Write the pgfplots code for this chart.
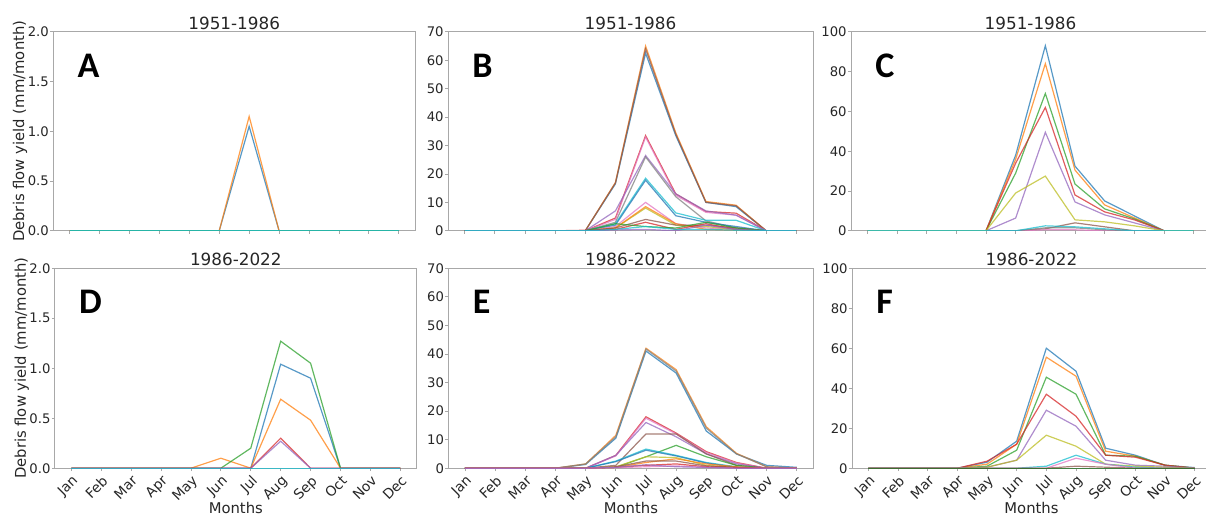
\documentclass[border=0pt]{standalone}
\usepackage{pgfplots}
\pgfplotsset{compat=1.18}
\usepackage{pgfplotstable}
\usepackage{fontspec}
\setmainfont{DejaVu Sans}
\newfontfamily\panelfont{Carlito}

\definecolor{c0}{HTML}{1F77B4}
\definecolor{c1}{HTML}{FF7F0E}
\definecolor{c2}{HTML}{2CA02C}
\definecolor{c3}{HTML}{D62728}
\definecolor{c4}{HTML}{9467BD}
\definecolor{c5}{HTML}{8C564B}
\definecolor{c6}{HTML}{E377C2}
\definecolor{c7}{HTML}{7F7F7F}
\definecolor{c8}{HTML}{BCBD22}
\definecolor{c9}{HTML}{17BECF}
\definecolor{spine}{HTML}{A8A8A8}
\definecolor{txt}{HTML}{262626}

% monthly yield per site, month index 0 = Jan
\pgfplotstableread{
m a1 a2 a3 a4
0 0 0 0 0
1 0 0 0 0
2 0 0 0 0
3 0 0 0 0
4 0 0 0 0
5 0 0 0 0
6 1.05 1.15 0 0
7 0 0 0 0
8 0 0 0 0
9 0 0 0 0
10 0 0 0 0
11 0 0 0 0
}\tabA

\pgfplotstableread{
m b1 b2 b3 b4 b5 b6 b7 b8 b9 b10 b11 b12 b13 b14 b15 b16 b17
0 0 0 0 0 0 0 0 0 0 0 0 0 0 0 0 0 0
1 0 0 0 0 0 0 0 0 0 0 0 0 0 0 0 0 0
2 0 0 0 0 0 0 0 0 0 0 0 0 0 0 0 0 0
3 0 0 0 0 0 0 0 0 0 0 0 0 0 0 0 0 0
4 0 0 0 0 0 0 0 0 0 0 0 0 0 0.2 0 0 0
5 16.5 17 16.8 4.5 4 7 3 2.5 2 1.5 1 1 1 0.5 2.5 0.3 0.5
6 62.5 65 64 33.5 33 26.5 26 18.5 17.8 10 8 8.5 4 3 1.5 0.5 1.5
7 33.5 34.5 34 13 12.5 13 12 6.3 5.3 2.5 2 2.5 2 0.5 1 0 0.5
8 10 10.3 10 6.8 6.5 7 3.5 3.7 3 1 1.5 0.5 2 2.5 3 2 0.5
9 8.5 9 8.8 6.2 5.5 5.5 1 3.7 1.5 0.5 0.5 0.2 1 0.5 1 0.5 0.2
10 0 0 0 0 0 0 0 0 0 0 0 0 0 0 0 0 0
11 0 0 0 0 0 0 0 0 0 0 0 0 0 0 0 0 0
}\tabB

\pgfplotstableread{
m c1 c2 c3 c4 c5 c6 c7 c8 c9 c10
0 0 0 0 0 0 0 0 0 0 0
1 0 0 0 0 0 0 0 0 0 0
2 0 0 0 0 0 0 0 0 0 0
3 0 0 0 0 0 0 0 0 0 0
4 0 0 0 0 0 0 0 0 0 0
5 38 36 29 34 6.4 0 0 0 19 0
6 93 84 69 62 49.5 1 0.5 1.5 27.5 2.5
7 32.5 30.5 23.5 18 14.5 4 0.5 1.5 5.5 2
8 15 13 11 9.5 8 2 0 0.5 4.5 1
9 7.5 6.5 6 5.5 4 0 0 0 2.5 0
10 0 0 0 0 0 0 0 0 0 0
11 0 0 0 0 0 0 0 0 0 0
}\tabC

\pgfplotstableread{
m d1 d2 d3 d4 d5 d6
0 0 0 0 0 0 0
1 0 0 0 0 0 0
2 0 0 0 0 0 0
3 0 0 0 0 0 0
4 0 0 0 0 0 0
5 0 0.1 0 0 0 0
6 0 0 0.2 0 0 0
7 1.04 0.69 1.27 0.3 0.27 0
8 0.9 0.48 1.05 0 0 0
9 0 0 0 0 0 0
10 0 0 0 0 0 0
11 0 0 0 0 0 0
}\tabD

\pgfplotstableread{
m e1 e2 e3 e4 e5 e6 e7 e8 e9 e10 e11 e12 e13 e14 e15 e16
0 0 0 0 0 0 0 0 0 0 0 0 0 0 0 0 0
1 0 0 0 0 0 0 0 0 0 0 0 0 0 0 0 0
2 0 0 0 0 0 0 0 0 0 0 0 0 0 0 0 0
3 0 0 0 0 0 0 0 0 0 0 0 0 0 0 0 0
4 1.3 1.5 1.5 0 0 0 0 0 0 0 0 0 0 0 0 0
5 10.5 11.5 11 4.5 4.3 4.5 1 0.3 2.5 2.3 0.5 0.3 0.5 0.3 0.2 0.3
6 41 42 41.7 18 17.5 16 12 4 6.7 6.3 4 2 2.5 1 0.5 1.2
7 33.3 34.5 34 12.3 12 11 12 8 4.5 4.3 3.7 3.3 2.5 1.5 0.8 0.5
8 13 14.5 14 5.8 5.5 5 5 4 2 1.8 1 1.5 0.8 0.5 0.3 0.3
9 5 5.2 5 2 1.8 1.5 1 1 0.5 0.3 0.3 0.5 0.3 0.2 0 0
10 1 0.5 0.5 0 0 0 0 0 0 0 0 0 0 0 0 0
11 0.3 0 0 0 0 0 0 0 0 0 0 0 0 0 0 0
}\tabE

\pgfplotstableread{
m f1 f2 f3 f4 f5 f6 f7 f8 f9 f10
0 0 0 0 0 0 0 0 0 0 0
1 0 0 0 0 0 0 0 0 0 0
2 0 0 0 0 0 0 0 0 0 0
3 0 0 0 0 0 0 0 0 0 0
4 3 2 1 3.5 0.5 0.5 0 0 0 0
5 13.5 12 9 12 4 4 0 0 0 0
6 60 55.5 45.5 37 29 16.5 1 0 0 0
7 48.5 46 37 26 21 11 6.5 5 1 0
8 10 8.5 6.5 6.5 4 2 2 2 0.5 0
9 6.5 6 6 5.5 1.5 1 0.5 0 0 0
10 1.5 1.5 1.5 1.5 1 0.5 0 0 0 0
11 0.3 0 0 0 0 0 0 0 0 0
}\tabF

\tikzset{
  letter/.style={anchor=north west, inner sep=0pt, xshift=12pt, yshift=-11pt,
    font=\panelfont\bfseries\fontsize{18}{18}\selectfont},
}
\pgfplotsset{
  panel/.style={
    scale only axis, xmin=-0.55, xmax=11.55, ymin=0,
    xtick={0,...,11}, xtick pos=bottom, ytick pos=left,
    tick align=outside, major tick length=1.5pt,
    axis line style={spine, line width=0.5pt},
    every tick/.style={spine, line width=0.4pt},
    tick label style={font=\fontsize{6.6}{7}\selectfont, text=txt},
    yticklabel style={inner sep=0.5pt},
    /pgf/number format/assume math mode=true,
    every axis title/.style={at={(0.5,1)}, anchor=base, yshift=1.3pt,
      font=\fontsize{8.4}{9}\selectfont, text=txt},
    every axis y label/.style={at={([xshift=-14.5pt]axis description cs:0,0.5)},
      rotate=90, anchor=base, inner sep=0pt, font=\fontsize{7.4}{8}\selectfont, text=txt},
    every axis x label/.style={at={([yshift=-22.6pt]axis description cs:0.5,0)},
      anchor=base, inner sep=0pt, font=\fontsize{7.4}{8}\selectfont, text=txt},
    every axis plot/.append style={line width=0.6pt, opacity=0.75, mark=none},
  },
  toprow/.style={panel, height=99.5pt, xticklabels={}, title={1951-1986}},
  botrow/.style={panel, height=100pt, title={1986-2022},
    xticklabels={Jan,Feb,Mar,Apr,May,Jun,Jul,Aug,Sep,Oct,Nov,Dec},
    xticklabel style={rotate=45, anchor=north east, inner sep=1pt,
      font=\fontsize{6.9}{7}\selectfont},
    xlabel={Months}},
  yrangeS/.style={ymax=2, ytick={0,0.5,1,1.5,2},
    yticklabel style={/pgf/number format/.cd, fixed, fixed zerofill, precision=1},
    ylabel={Debris flow yield (mm/month)}},
  yrangeM/.style={ymax=70, ytick={0,10,...,70}},
  yrangeL/.style={ymax=100, ytick={0,20,...,100}},
}

\begin{document}
\begin{tikzpicture}
\useasboundingbox (0,0) rectangle (603pt,258pt);

% A
\begin{axis}[toprow, yrangeS, at={(26.6pt,142.6pt)}, anchor=south west, width=181pt]
\addplot[c0] table[x=m,y=a1] {\tabA};
\addplot[c1] table[x=m,y=a2] {\tabA};
\addplot[c2] table[x=m,y=a3] {\tabA};
\addplot[c9] table[x=m,y=a4] {\tabA};
\node[letter] at (rel axis cs:0,1) {A};
\end{axis}

% B
\begin{axis}[toprow, yrangeM, at={(224pt,142.6pt)}, anchor=south west, width=182.5pt]
\addplot[c0] table[x=m,y=b1] {\tabB};
\addplot[c1] table[x=m,y=b2] {\tabB};
\addplot[c5] table[x=m,y=b3] {\tabB};
\addplot[c3] table[x=m,y=b4] {\tabB};
\addplot[c6] table[x=m,y=b5] {\tabB};
\addplot[c4] table[x=m,y=b6] {\tabB};
\addplot[c7] table[x=m,y=b7] {\tabB};
\addplot[c9] table[x=m,y=b8] {\tabB};
\addplot[c0] table[x=m,y=b9] {\tabB};
\addplot[c6] table[x=m,y=b10] {\tabB};
\addplot[c8] table[x=m,y=b11] {\tabB};
\addplot[c1] table[x=m,y=b12] {\tabB};
\addplot[c5] table[x=m,y=b13] {\tabB};
\addplot[c3] table[x=m,y=b14] {\tabB};
\addplot[c2] table[x=m,y=b15] {\tabB};
\addplot[c4] table[x=m,y=b16] {\tabB};
\addplot[c9] table[x=m,y=b17] {\tabB};
\node[letter] at (rel axis cs:0,1) {B};
\end{axis}

% C
\begin{axis}[toprow, yrangeL, at={(425.5pt,142.6pt)}, anchor=south west, width=179.5pt]
\addplot[c0] table[x=m,y=c1] {\tabC};
\addplot[c1] table[x=m,y=c2] {\tabC};
\addplot[c2] table[x=m,y=c3] {\tabC};
\addplot[c3] table[x=m,y=c4] {\tabC};
\addplot[c4] table[x=m,y=c5] {\tabC};
\addplot[c5] table[x=m,y=c6] {\tabC};
\addplot[c6] table[x=m,y=c7] {\tabC};
\addplot[c7] table[x=m,y=c8] {\tabC};
\addplot[c8] table[x=m,y=c9] {\tabC};
\addplot[c9] table[x=m,y=c10] {\tabC};
\node[letter] at (rel axis cs:0,1) {C};
\end{axis}

% D
\begin{axis}[botrow, yrangeS, at={(27.4pt,23.9pt)}, anchor=south west, width=181pt]
\addplot[c0] table[x=m,y=d1] {\tabD};
\addplot[c1] table[x=m,y=d2] {\tabD};
\addplot[c2] table[x=m,y=d3] {\tabD};
\addplot[c3] table[x=m,y=d4] {\tabD};
\addplot[c4] table[x=m,y=d5] {\tabD};
\addplot[c9] table[x=m,y=d6] {\tabD};
\node[letter] at (rel axis cs:0,1) {D};
\end{axis}

% E
\begin{axis}[botrow, yrangeM, at={(224.2pt,23.9pt)}, anchor=south west, width=182.5pt]
\addplot[c0] table[x=m,y=e1] {\tabE};
\addplot[c1] table[x=m,y=e2] {\tabE};
\addplot[c7] table[x=m,y=e3] {\tabE};
\addplot[c3] table[x=m,y=e4] {\tabE};
\addplot[c6] table[x=m,y=e5] {\tabE};
\addplot[c4] table[x=m,y=e6] {\tabE};
\addplot[c5] table[x=m,y=e7] {\tabE};
\addplot[c2] table[x=m,y=e8] {\tabE};
\addplot[c9] table[x=m,y=e9] {\tabE};
\addplot[c0] table[x=m,y=e10] {\tabE};
\addplot[c8] table[x=m,y=e11] {\tabE};
\addplot[c1] table[x=m,y=e12] {\tabE};
\addplot[c5] table[x=m,y=e13] {\tabE};
\addplot[c3] table[x=m,y=e14] {\tabE};
\addplot[c6] table[x=m,y=e15] {\tabE};
\addplot[c4] table[x=m,y=e16] {\tabE};
\node[letter] at (rel axis cs:0,1) {E};
\end{axis}

% F
\begin{axis}[botrow, yrangeL, at={(426pt,23.9pt)}, anchor=south west, width=179.5pt]
\addplot[c0] table[x=m,y=f1] {\tabF};
\addplot[c1] table[x=m,y=f2] {\tabF};
\addplot[c2] table[x=m,y=f3] {\tabF};
\addplot[c3] table[x=m,y=f4] {\tabF};
\addplot[c4] table[x=m,y=f5] {\tabF};
\addplot[c8] table[x=m,y=f6] {\tabF};
\addplot[c9] table[x=m,y=f7] {\tabF};
\addplot[c6] table[x=m,y=f8] {\tabF};
\addplot[c5] table[x=m,y=f9] {\tabF};
\addplot[c2!70!black] table[x=m,y=f10] {\tabF};
\node[letter] at (rel axis cs:0,1) {F};
\end{axis}
\end{tikzpicture}
\end{document}
